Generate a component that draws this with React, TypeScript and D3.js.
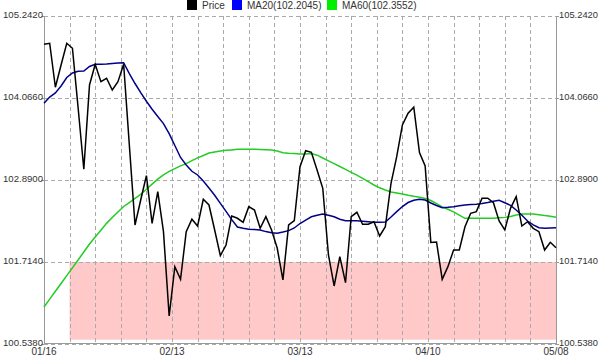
import React from "react";
import * as d3 from "d3";

const dateLabels = ["01/16", "02/13", "03/13", "04/10", "05/08"];
const yTickValues = [100.538, 101.714, 102.89, 104.066, 105.242];
const legendNames = ["Price", "MA20(102.2045)", "MA60(102.3552)"];

const price = [
  104.836, 104.851, 104.22, 104.539, 104.851, 104.779, 103.923, 103.044, 104.253, 104.549,
  104.3, 104.349, 104.181, 104.3, 104.549, 103.392, 102.245, 102.603, 102.952, 102.269,
  102.722, 102.149, 100.94, 101.647, 101.466, 102.149, 102.327, 102.23, 102.613, 102.532,
  102.173, 101.805, 101.958, 102.374, 102.341, 102.283, 102.507, 102.46, 102.197, 102.364,
  102.173, 101.911, 101.456, 102.245, 102.307, 103.081, 103.31, 103.287, 103.034, 102.771,
  101.815, 101.37, 101.79, 101.417, 102.364, 102.427, 102.255, 102.255, 102.292, 102.087,
  102.22, 102.843, 103.224, 103.679, 103.847, 103.933, 103.282, 103.091, 101.994, 102.001,
  101.466, 101.647, 101.886, 101.886, 102.22, 102.413, 102.436, 102.628, 102.628, 102.565,
  102.302, 102.173, 102.484, 102.651, 102.23, 102.292, 102.197, 102.149, 101.886, 101.997,
  101.919,
];

const ma20 = [
  103.99, 104.08, 104.138, 104.238, 104.36, 104.425, 104.449, 104.453, 104.518, 104.549,
  104.551, 104.554, 104.561, 104.568, 104.572, 104.417, 104.274, 104.142, 104.019, 103.904,
  103.802, 103.699, 103.556, 103.385, 103.213, 103.105, 103.015, 102.962, 102.876, 102.775,
  102.671, 102.555, 102.44, 102.322, 102.216, 102.199, 102.185, 102.179, 102.173, 102.15,
  102.133, 102.126, 102.144, 102.164, 102.202, 102.266, 102.316, 102.362, 102.385, 102.403,
  102.384, 102.362, 102.327, 102.306, 102.306, 102.306, 102.298, 102.291, 102.284, 102.284,
  102.288, 102.36, 102.436, 102.509, 102.567, 102.599, 102.613, 102.603, 102.56, 102.524,
  102.493, 102.499, 102.507, 102.522, 102.532, 102.537, 102.542, 102.553, 102.567, 102.586,
  102.599, 102.563, 102.526, 102.46, 102.385, 102.302, 102.246, 102.205, 102.197, 102.202,
  102.2045,
];

const ma60 = [
  101.069, 101.181, 101.294, 101.406, 101.519, 101.63, 101.743, 101.858, 101.972, 102.073,
  102.169, 102.268, 102.351, 102.431, 102.51, 102.567, 102.625, 102.684, 102.757, 102.831,
  102.902, 102.962, 103.013, 103.054, 103.092, 103.125, 103.167, 103.207, 103.241, 103.276,
  103.292, 103.305, 103.315, 103.322, 103.33, 103.33, 103.33, 103.33, 103.328, 103.325,
  103.32, 103.306, 103.282, 103.272, 103.269, 103.263, 103.263, 103.27, 103.246, 103.206,
  103.165, 103.124, 103.084, 103.042, 103.0, 102.96, 102.914, 102.866, 102.818, 102.778,
  102.747, 102.719, 102.704, 102.688, 102.671, 102.656, 102.643, 102.626, 102.596, 102.55,
  102.504, 102.47, 102.433, 102.387, 102.341, 102.341, 102.341, 102.341, 102.341, 102.341,
  102.347, 102.354, 102.368, 102.388, 102.403, 102.403, 102.403, 102.391, 102.38, 102.371,
  102.3552,
];

// shaded zone: start index, low value, high value
const zoneStart = [4.5];
const zoneValues = [100.6, 101.714];

const W = 600;
const H = 360;
const L = 44;
const R = 556;
const T = 16;
const B = 344;
const FONT = "'Liberation Sans', Arial, sans-serif";

export default function App() {
  const n = price.length;
  const x = d3.scaleLinear().domain([0, n - 1]).range([L, R]);
  const y = d3.scaleLinear().domain([yTickValues[0], yTickValues[yTickValues.length - 1]]).range([B, T]);
  const line = d3
    .line<number>()
    .x((_, i) => x(i))
    .y((d) => y(d));

  const vGrid = d3.range(0, 21).map((k) => ((n - 1) / 20) * k);
  const labelIdx = dateLabels.map((_, k) => ((n - 1) / (dateLabels.length - 1)) * k);

  const legendColors = ["#000000", "#0000ff", "#00ee00"];
  const legendX = [187, 232, 327];

  return (
    <div style={{ position: "absolute", left: 0, top: 0, width: W, height: H, background: "#fff" }}>
      <svg width={W} height={H} style={{ display: "block" }} fontFamily={FONT}>
        <rect x={0} y={0} width={W} height={H} fill="#fff" />
        <rect
          x={x(zoneStart[0])}
          y={y(zoneValues[1])}
          width={R - x(zoneStart[0])}
          height={y(zoneValues[0]) - y(zoneValues[1])}
          fill="#ffc9c9"
        />
        {yTickValues.map((v, i) => (
          <line
            key={"h" + i}
            x1={L}
            x2={R}
            y1={Math.round(y(v)) + 0.5}
            y2={Math.round(y(v)) + 0.5}
            stroke="#aaa"
            strokeDasharray="4,3"
          />
        ))}
        {vGrid.map((v, i) => (
          <line
            key={"v" + i}
            x1={Math.round(x(v)) + 0.5}
            x2={Math.round(x(v)) + 0.5}
            y1={T}
            y2={B}
            stroke="#aaa"
            strokeDasharray="4,3"
          />
        ))}
        <line x1={L + 0.5} x2={L + 0.5} y1={T} y2={B} stroke="#999" />
        <line x1={R + 0.5} x2={R + 0.5} y1={T} y2={B} stroke="#999" />
        <line x1={L} x2={R} y1={B - 0.5} y2={B - 0.5} stroke="#999" />
        {yTickValues.map((v, i) => (
          <g key={"t" + i}>
            <line x1={L - 3} x2={L} y1={Math.round(y(v)) + 0.5} y2={Math.round(y(v)) + 0.5} stroke="#999" />
            <line x1={R} x2={R + 3} y1={Math.round(y(v)) + 0.5} y2={Math.round(y(v)) + 0.5} stroke="#999" />
            <text x={L - 1} y={y(v) - 0.5} textAnchor="end" dominantBaseline="middle" fontSize={9.6} fill="#333">
              {v.toFixed(4)}
            </text>
            <text
              x={R + 3}
              y={y(v) - 0.5}
              textAnchor="start"
              dominantBaseline="middle"
              fontSize={9.6}
              fill="#333"
              textLength={39}
              lengthAdjust="spacingAndGlyphs"
            >
              {v.toFixed(4)}
            </text>
          </g>
        ))}
        {labelIdx.map((v, i) => (
          <text key={"xl" + i} x={x(v)} y={355} textAnchor="middle" fontSize={10} fill="#333">
            {dateLabels[i]}
          </text>
        ))}
        <path d={line(ma60) || ""} fill="none" stroke="#22cc22" strokeWidth={1.5} />
        <path d={line(ma20) || ""} fill="none" stroke="#000088" strokeWidth={1.5} />
        <path d={line(price) || ""} fill="none" stroke="#000" strokeWidth={1.5} />
        {legendNames.map((name, i) => (
          <g key={"lg" + i}>
            <rect x={legendX[i]} y={0} width={10} height={10} fill={legendColors[i]} />
            <text x={legendX[i] + 15} y={9} fontSize={10} fill="#333">
              {name}
            </text>
          </g>
        ))}
      </svg>
    </div>
  );
}
